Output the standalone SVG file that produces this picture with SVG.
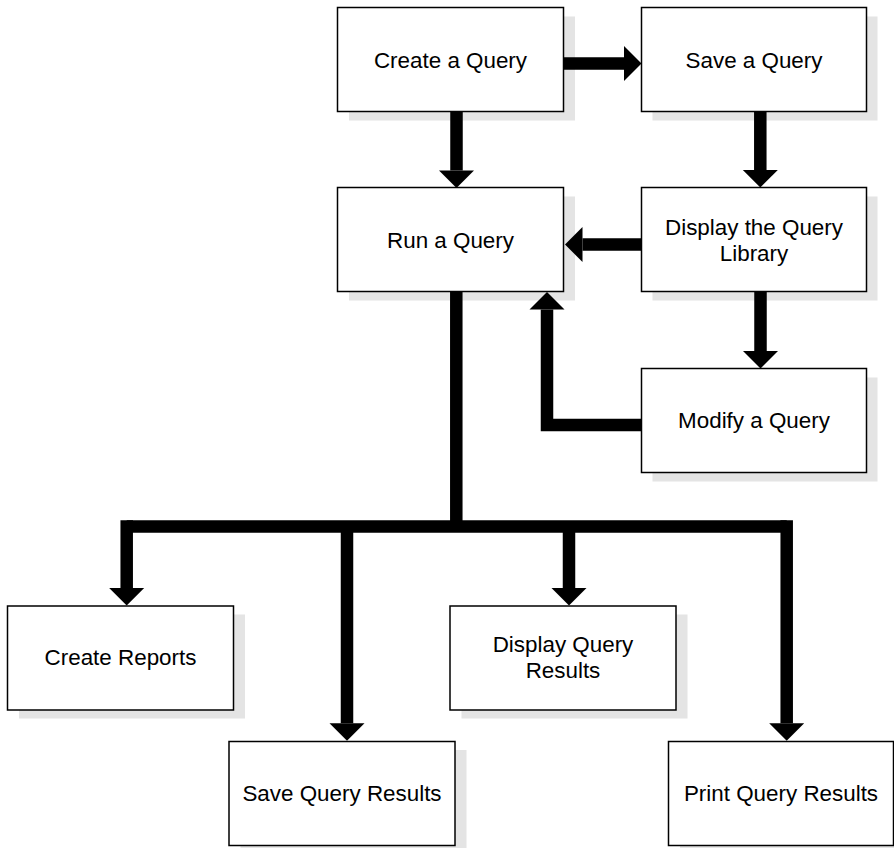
<svg xmlns="http://www.w3.org/2000/svg" width="894" height="848" viewBox="0 0 894 848">
  <defs>
    <style>
      .shadow { fill: #e4e4e4; }
      .box { fill: #ffffff; stroke: #000000; stroke-width: 1.5; }
      .label { font-family: "Liberation Sans", Arial, sans-serif; font-size: 22.4px; fill: #000000; text-anchor: middle; }
      .flow { fill: none; stroke: #000000; stroke-width: 12.5; stroke-linejoin: miter; stroke-linecap: butt; }
    </style>
    <marker id="head" markerUnits="userSpaceOnUse" markerWidth="18" markerHeight="36" refX="0" refY="17.5" orient="auto" overflow="visible">
      <path d="M0,0 L17.5,17.5 L0,35 Z" fill="#000000"/>
    </marker>
  </defs>

  <rect width="894" height="848" fill="#ffffff"/>

  <!-- process boxes -->
  <g id="create-query">
    <rect class="shadow" x="349" y="16.5" width="226" height="104"/>
    <rect class="box" x="337.5" y="7.5" width="226" height="104"/>
    <text class="label" x="450.5" y="67.5">Create a Query</text>
  </g>
  <g id="save-query">
    <rect class="shadow" x="652.5" y="16.5" width="225" height="104"/>
    <rect class="box" x="641.5" y="7.5" width="225" height="104"/>
    <text class="label" x="754" y="67.5">Save a Query</text>
  </g>
  <g id="run-query">
    <rect class="shadow" x="349" y="196.5" width="226" height="104"/>
    <rect class="box" x="337.5" y="187.5" width="226" height="104"/>
    <text class="label" x="450.5" y="247.5">Run a Query</text>
  </g>
  <g id="display-library">
    <rect class="shadow" x="652.5" y="196.5" width="225" height="104"/>
    <rect class="box" x="641.5" y="187.5" width="225" height="104"/>
    <text class="label" x="754" y="234.5">Display the Query</text>
    <text class="label" x="754" y="261">Library</text>
  </g>
  <g id="modify-query">
    <rect class="shadow" x="652.5" y="377.5" width="225" height="104"/>
    <rect class="box" x="641.5" y="368.5" width="225" height="104"/>
    <text class="label" x="754" y="428">Modify a Query</text>
  </g>
  <g id="create-reports">
    <rect class="shadow" x="19" y="614.5" width="226" height="104"/>
    <rect class="box" x="7.5" y="606" width="226" height="104"/>
    <text class="label" x="120.5" y="665">Create Reports</text>
  </g>
  <g id="save-results">
    <rect class="shadow" x="240.5" y="750" width="226" height="104"/>
    <rect class="box" x="229" y="741.5" width="226" height="104"/>
    <text class="label" x="342" y="800.5">Save Query Results</text>
  </g>
  <g id="display-results">
    <rect class="shadow" x="461.5" y="614.5" width="226" height="104"/>
    <rect class="box" x="450" y="606" width="226" height="104"/>
    <text class="label" x="563" y="651.5">Display Query</text>
    <text class="label" x="563" y="677.5">Results</text>
  </g>
  <g id="print-results">
    <rect class="shadow" x="680" y="750" width="226" height="104"/>
    <rect class="box" x="668.5" y="741.5" width="225" height="104"/>
    <text class="label" x="781" y="800.5">Print Query Results</text>
  </g>

  <!-- connectors -->
  <g id="connectors">
    <path class="flow" d="M564,63.5 H624" marker-end="url(#head)"/>
    <path class="flow" d="M456.5,111.5 V170.5" marker-end="url(#head)"/>
    <path class="flow" d="M760.3,111.5 V170" marker-end="url(#head)"/>
    <path class="flow" d="M641.5,244.5 H582.5" marker-end="url(#head)"/>
    <path class="flow" d="M760.5,291.5 V351" marker-end="url(#head)"/>
    <path class="flow" d="M641.5,425 H547 V309.5" marker-end="url(#head)"/>
    <path class="flow" d="M456.3,291.5 V526.4"/>
    <path class="flow" d="M126.7,526.4 H786.7"/>
    <path class="flow" d="M126.7,520.2 V588" marker-end="url(#head)"/>
    <path class="flow" d="M347,526.4 V723.3" marker-end="url(#head)"/>
    <path class="flow" d="M569,526.4 V588" marker-end="url(#head)"/>
    <path class="flow" d="M786.7,520.2 V723.3" marker-end="url(#head)"/>
  </g>
</svg>
